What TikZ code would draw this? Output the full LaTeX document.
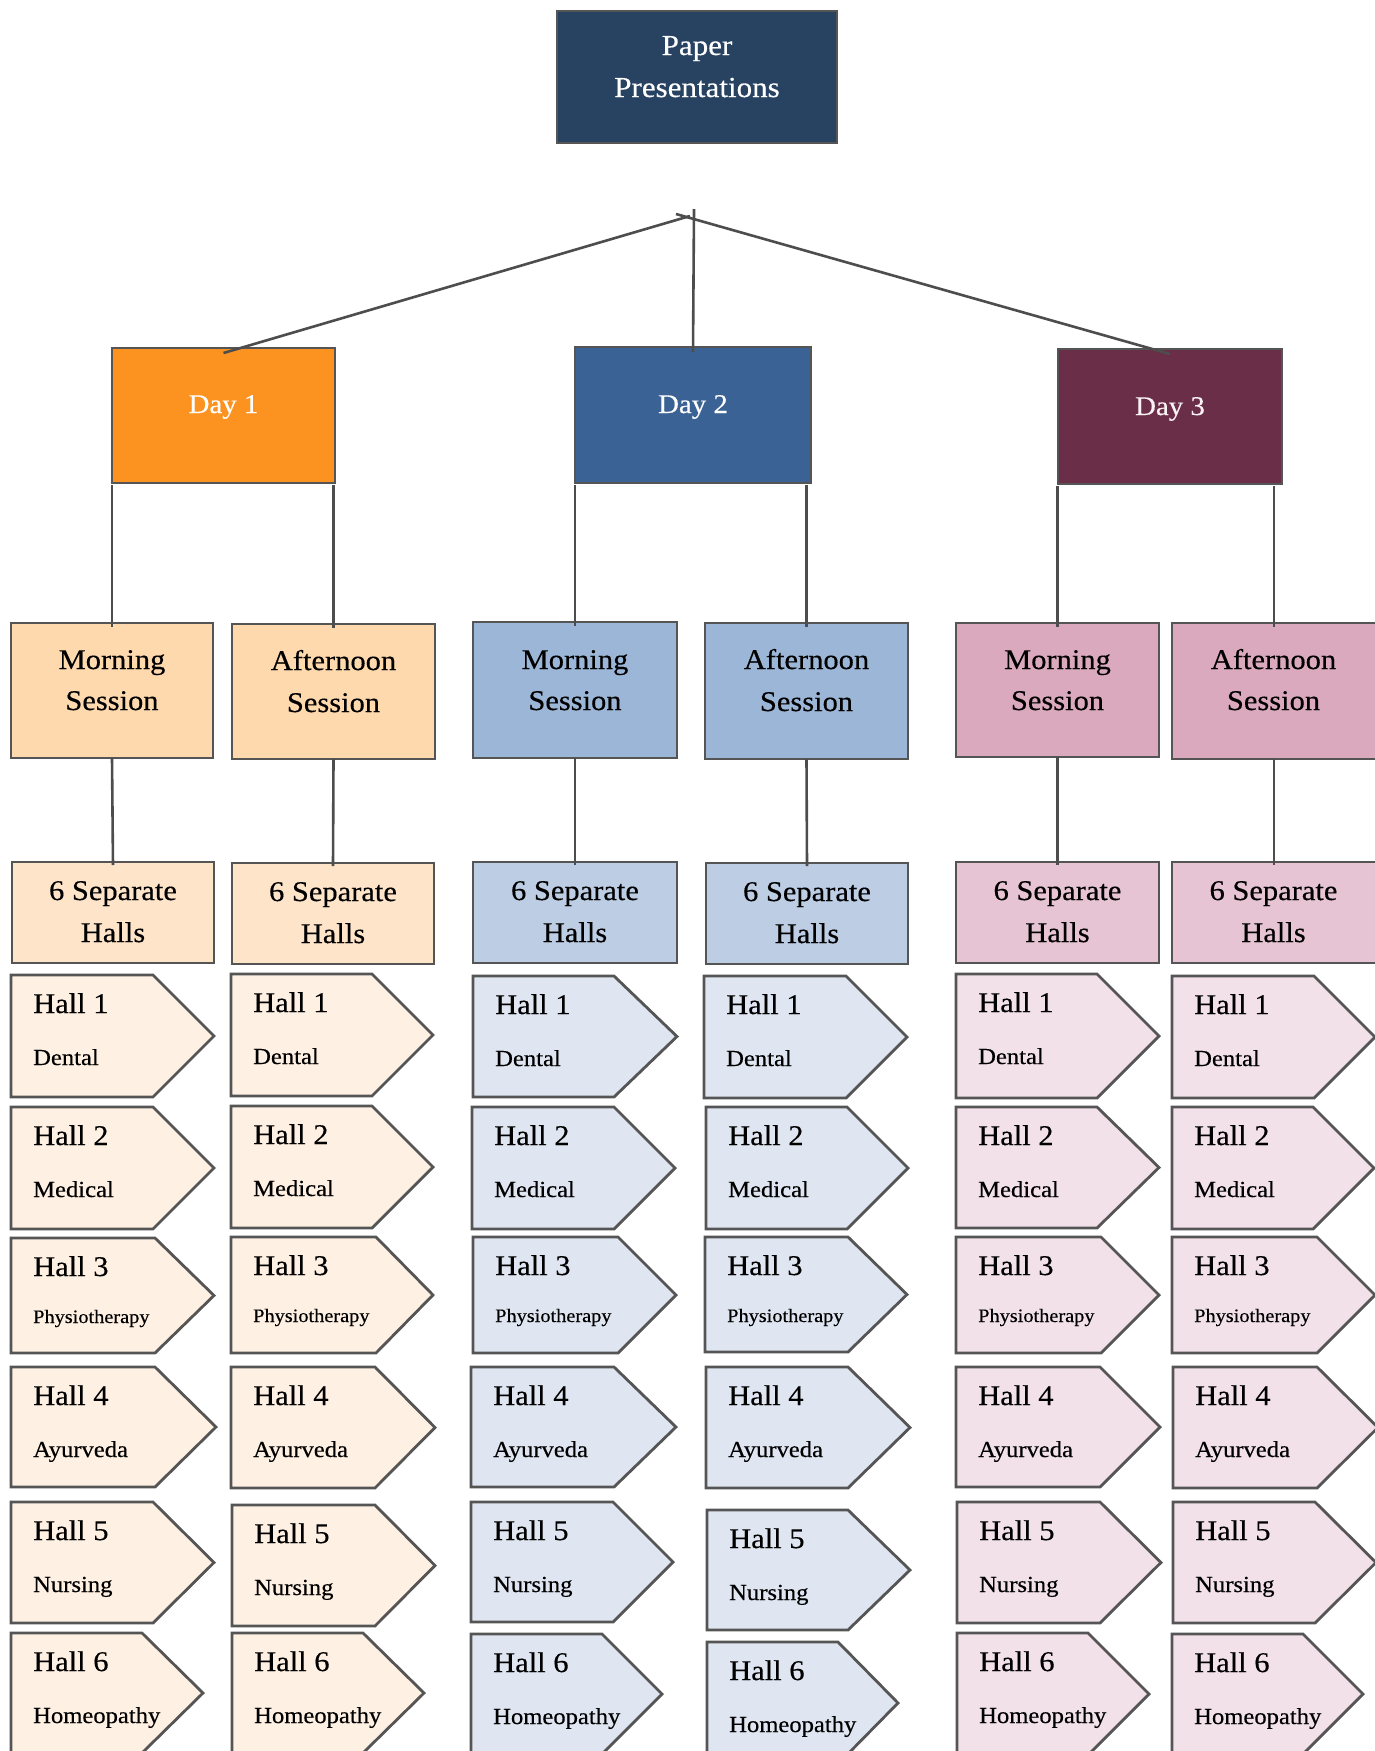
\documentclass[tikz,border=0pt]{standalone}
\usepackage{fontspec}
\setmainfont{Liberation Serif}[FakeStretch=1.07,FakeBold=0.35]
\usetikzlibrary{calc}
\definecolor{bordergray}{HTML}{555555}
\definecolor{linegray}{HTML}{4D4D4D}
\definecolor{paperblue}{HTML}{284262}
\definecolor{dayorange}{HTML}{FC9320}
\definecolor{dayblue}{HTML}{3A6294}
\definecolor{daywine}{HTML}{6A2E48}
\definecolor{sesA}{HTML}{FED9AE}
\definecolor{sesB}{HTML}{9CB6D7}
\definecolor{sesC}{HTML}{DBA9BE}
\definecolor{halA}{HTML}{FEE4C9}
\definecolor{halB}{HTML}{BCCDE4}
\definecolor{halC}{HTML}{E6C4D3}
\definecolor{penA}{HTML}{FEF0E2}
\definecolor{penB}{HTML}{DFE6F1}
\definecolor{penC}{HTML}{F2E1E8}
\definecolor{daytext}{HTML}{FAF2F5}
\tikzset{
 rbox/.style={draw=bordergray, line width=2.8pt, rectangle, anchor=north west, inner sep=0pt, outer sep=0pt},
 conn/.style={draw=linegray, line width=2.6pt},
 pentstyle/.style={draw=bordergray, line width=2.8pt, line join=miter},
 txt/.style={anchor=base, inner sep=0pt, font=\fontsize{28.5}{30}\selectfont, text=black},
 whitetxt/.style={anchor=base, inner sep=0pt, font=\fontsize{27}{30}\selectfont, text=white},
 halltitle/.style={anchor=base west, inner sep=0pt, font=\fontsize{28.5}{30}\selectfont},
 hallsub/.style={anchor=base west, inner sep=0pt, font=\fontsize{23}{25}\selectfont},
 hallphys/.style={anchor=base west, inner sep=0pt, font=\fontsize{19}{21}\selectfont},
 cursub/.style={hallsub},
}
\newcommand\subdy{90}
\newcommand\pent[9]{%
 \draw[pentstyle, fill=#6] (#1,#2) -- (#3,#2) -- (#4,{(#2+#5)/2}) -- (#3,#5) -- (#1,#5) -- cycle;
 \node[halltitle] (#7t) at ({#1+22},{#2+38}) {Hall #8};
 \node[cursub] (#7s) at ({#1+22},{#2+\subdy}) {#9};
}
\begin{document}
\begin{tikzpicture}[x=1pt,y=-1pt]
\useasboundingbox (0,0) rectangle (1374,1751);
% top
\node[rbox, fill=paperblue, minimum width=280pt, minimum height=132pt] (paper) at (557,11) {};
\node[whitetxt, font=\fontsize{29}{30}\selectfont] (papert1) at (697,55) {Paper};
\node[whitetxt, font=\fontsize{29}{30}\selectfont] (papert2) at (697,97) {Presentations};
% days
\node[rbox, fill=dayorange, minimum width=223pt, minimum height=135pt] (d1) at (112,348) {};
\node[rbox, fill=dayblue, minimum width=236pt, minimum height=136pt] (d2) at (575,347) {};
\node[rbox, fill=daywine, minimum width=224pt, minimum height=135pt] (d3) at (1058,349) {};
\node[whitetxt] (d1t) at (223.5,413) {Day 1};
\node[whitetxt] (d2t) at (693,413) {Day 2};
\node[whitetxt, text=daytext] (d3t) at (1170,415) {Day 3};
% junction connectors
\coordinate (jl) at (690,216);
\coordinate (jr) at (676,214);
\coordinate (jv) at (694,209);
\draw[conn] (jl) -- ($(d1.north)+(0,5)$);
\draw[conn] (jr) -- ($(d3.north)+(0,5)$);
\draw[conn] (jv) -- ($(d2.north)+(0,5)$);
% sessions
\node[rbox, fill=sesA, minimum width=202pt, minimum height=135pt] (m1) at (11,623) {};
\node[rbox, fill=sesA, minimum width=203pt, minimum height=135pt] (a1) at (232,624) {};
\node[rbox, fill=sesB, minimum width=204pt, minimum height=136pt] (m2) at (473,622) {};
\node[rbox, fill=sesB, minimum width=203pt, minimum height=136pt] (a2) at (705,623) {};
\node[rbox, fill=sesC, minimum width=203pt, minimum height=134pt] (m3) at (956,623) {};
\node[rbox, fill=sesC, minimum width=204pt, minimum height=136pt] (a3) at (1172,623) {};
\node[txt] (m1t1) at (112,669) {Morning};
\node[txt] (m1t2) at (112,710) {Session};
\node[txt] (a1t1) at (333.5,670) {Afternoon};
\node[txt] (a1t2) at (333.5,712) {Session};
\node[txt] (m2t1) at (575,669) {Morning};
\node[txt] (m2t2) at (575,710) {Session};
\node[txt] (a2t1) at (806.5,669) {Afternoon};
\node[txt] (a2t2) at (806.5,711) {Session};
\node[txt] (m3t1) at (1057.5,669) {Morning};
\node[txt] (m3t2) at (1057.5,710) {Session};
\node[txt] (a3t1) at (1273.5,669) {Afternoon};
\node[txt] (a3t2) at (1273.5,710) {Session};
% day -> session
\draw[conn] ($(m1.north |- d1.south)+(0,2)$) -- ($(m1.north)+(0,4)$);
\draw[conn] ($(a1.north |- d1.south)+(0,2)$) -- ($(a1.north)+(0,4)$);
\draw[conn] ($(m2.north |- d2.south)+(0,2)$) -- ($(m2.north)+(0,4)$);
\draw[conn] ($(a2.north |- d2.south)+(0,2)$) -- ($(a2.north)+(0,4)$);
\draw[conn] ($(m3.north |- d3.south)+(0,2)$) -- ($(m3.north)+(0,4)$);
\draw[conn] ($(a3.north |- d3.south)+(0,2)$) -- ($(a3.north)+(0,4)$);
% halls boxes
\node[rbox, fill=halA, minimum width=202pt, minimum height=101pt] (h1) at (12,862) {};
\node[rbox, fill=halA, minimum width=202pt, minimum height=101pt] (g1) at (232,863) {};
\node[rbox, fill=halB, minimum width=204pt, minimum height=101pt] (h2) at (473,862) {};
\node[rbox, fill=halB, minimum width=202pt, minimum height=101pt] (g2) at (706,863) {};
\node[rbox, fill=halC, minimum width=203pt, minimum height=101pt] (h3) at (956,862) {};
\node[rbox, fill=halC, minimum width=204pt, minimum height=101pt] (g3) at (1172,862) {};
\node[txt] (h1t1) at (113,900) {6 Separate};
\node[txt] (h1t2) at (113,942) {Halls};
\node[txt] (g1t1) at (333,901) {6 Separate};
\node[txt] (g1t2) at (333,943) {Halls};
\node[txt] (h2t1) at (575,900) {6 Separate};
\node[txt] (h2t2) at (575,942) {Halls};
\node[txt] (g2t1) at (807,901) {6 Separate};
\node[txt] (g2t2) at (807,943) {Halls};
\node[txt] (h3t1) at (1057.5,900) {6 Separate};
\node[txt] (h3t2) at (1057.5,942) {Halls};
\node[txt] (g3t1) at (1273.5,900) {6 Separate};
\node[txt] (g3t2) at (1273.5,942) {Halls};
% session -> halls
\draw[conn] (m1.south) -- ($(h1.north)+(0,3)$);
\draw[conn] (a1.south) -- ($(g1.north)+(0,3)$);
\draw[conn] (m2.south) -- ($(h2.north)+(0,3)$);
\draw[conn] (a2.south) -- ($(g2.north)+(0,3)$);
\draw[conn] (m3.south) -- ($(h3.north)+(0,3)$);
\draw[conn] (a3.south) -- ($(g3.north)+(0,3)$);
% row 1
\pent{11}{975}{153}{214}{1097}{penA}{p11}{1}{Dental}
\pent{231}{974}{372}{433}{1096}{penA}{p21}{1}{Dental}
\pent{473}{976}{614}{677}{1097}{penB}{p31}{1}{Dental}
\pent{704}{976}{846}{907}{1098}{penB}{p41}{1}{Dental}
\pent{956}{974}{1097}{1159}{1098}{penC}{p51}{1}{Dental}
\pent{1172}{976}{1314}{1375}{1098}{penC}{p61}{1}{Dental}
% row 2
\pent{11}{1107}{153}{214}{1229}{penA}{p12}{2}{Medical}
\pent{231}{1106}{372}{433}{1228}{penA}{p22}{2}{Medical}
\pent{472}{1107}{614}{675}{1229}{penB}{p32}{2}{Medical}
\pent{706}{1107}{847}{908}{1229}{penB}{p42}{2}{Medical}
\pent{956}{1107}{1097}{1159}{1228}{penC}{p52}{2}{Medical}
\pent{1172}{1107}{1313}{1374}{1229}{penC}{p62}{2}{Medical}
% row 3
\tikzset{cursub/.style={hallphys}}
\renewcommand\subdy{85}
\pent{11}{1238}{155}{214}{1353}{penA}{p13}{3}{Physiotherapy}
\pent{231}{1237}{376}{433}{1353}{penA}{p23}{3}{Physiotherapy}
\pent{473}{1237}{618}{676}{1353}{penB}{p33}{3}{Physiotherapy}
\pent{705}{1237}{848}{907}{1352}{penB}{p43}{3}{Physiotherapy}
\pent{956}{1237}{1101}{1159}{1353}{penC}{p53}{3}{Physiotherapy}
\pent{1172}{1237}{1317}{1375}{1353}{penC}{p63}{3}{Physiotherapy}
\tikzset{cursub/.style={hallsub}}
\renewcommand\subdy{90}
% row 4
\pent{11}{1367}{155}{216}{1487}{penA}{p14}{4}{Ayurveda}
\pent{231}{1367}{375}{435}{1488}{penA}{p24}{4}{Ayurveda}
\pent{471}{1367}{614}{676}{1487}{penB}{p34}{4}{Ayurveda}
\pent{706}{1367}{848}{910}{1488}{penB}{p44}{4}{Ayurveda}
\pent{956}{1367}{1100}{1160}{1487}{penC}{p54}{4}{Ayurveda}
\pent{1173}{1367}{1317}{1378}{1488}{penC}{p64}{4}{Ayurveda}
% row 5
\pent{11}{1502}{153}{214}{1623}{penA}{p15}{5}{Nursing}
\pent{232}{1505}{375}{435}{1626}{penA}{p25}{5}{Nursing}
\pent{471}{1502}{613}{673}{1622}{penB}{p35}{5}{Nursing}
\pent{707}{1510}{848}{910}{1630}{penB}{p45}{5}{Nursing}
\pent{957}{1502}{1100}{1161}{1623}{penC}{p55}{5}{Nursing}
\pent{1173}{1502}{1315}{1376}{1623}{penC}{p65}{5}{Nursing}
% row 6
\pent{11}{1633}{142}{203}{1753}{penA}{p16}{6}{Homeopathy}
\pent{232}{1633}{363}{424}{1753}{penA}{p26}{6}{Homeopathy}
\pent{471}{1634}{602}{662}{1754}{penB}{p36}{6}{Homeopathy}
\pent{707}{1642}{838}{898}{1764}{penB}{p46}{6}{Homeopathy}
\pent{957}{1633}{1088}{1149}{1755}{penC}{p56}{6}{Homeopathy}
\pent{1172}{1634}{1303}{1363}{1754}{penC}{p66}{6}{Homeopathy}
\end{tikzpicture}
\end{document}
